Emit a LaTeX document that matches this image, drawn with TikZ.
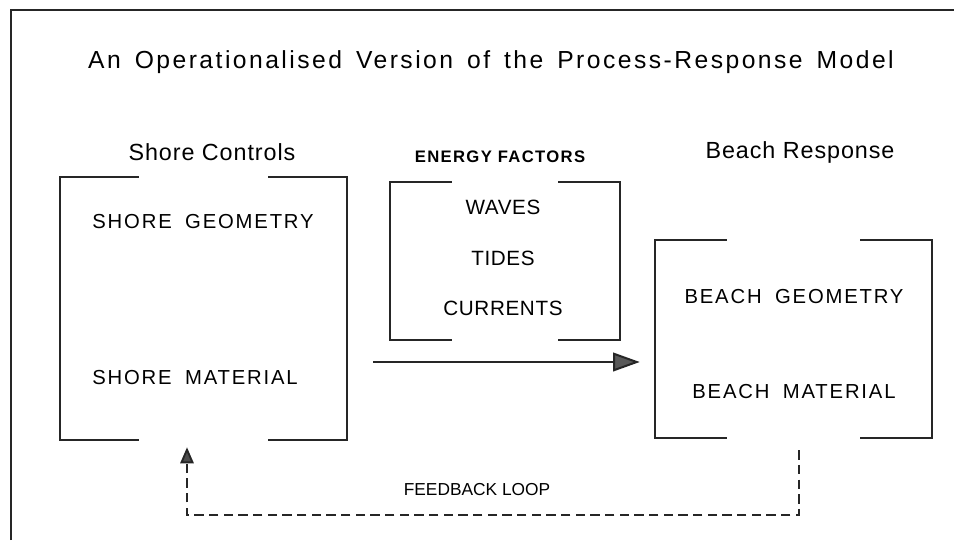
\documentclass[tikz,border=0pt]{standalone}
\usepackage{fontspec}
\setmainfont{Liberation Sans}
\newfontfamily\titlefont{Liberation Sans}[LetterSpace=10,WordSpace=1.5]
\newfontfamily\headfont{Liberation Sans}[LetterSpace=4]
\newfontfamily\energyfont{Liberation Sans}[LetterSpace=8]
\newfontfamily\itemfont{Liberation Sans}[LetterSpace=9,WordSpace=1.8]
\newfontfamily\factorfont{Liberation Sans}[LetterSpace=3]
\usetikzlibrary{arrows.meta,calc}

% draw the two open brackets of a framed group node
\newcommand{\bracketpair}[2]{%
  \draw[bracketline] ($(#1.north west)+(#2,0)$) -| (#1.south west) -- ++(#2,0);
  \draw[bracketline] ($(#1.north east)-(#2,0)$) -| (#1.south east) -- ++(-#2,0);
}

\begin{document}
\begin{tikzpicture}[x=0.75pt,y=-0.75pt,
  bracketline/.style={draw=black!85,line width=1.7pt},
  framebox/.style={rectangle,inner sep=0pt,draw=none},
  title/.style={font=\titlefont\fontsize{18.5}{20}\selectfont},
  heading/.style={font=\headfont\fontsize{17.5}{20}\selectfont},
  capsbold/.style={font=\energyfont\fontsize{12.5}{14}\selectfont\bfseries},
  item/.style={font=\itemfont\fontsize{15.2}{17}\selectfont},
  thin/.style={font=\factorfont\fontsize{15.5}{17}\selectfont},
  plain/.style={font=\fontsize{13}{16}\selectfont},
  flow/.style={draw=black!85,line width=1.5pt,-{Triangle[length=20pt,width=14pt,fill=black!65]}},
  feedback/.style={draw=black!85,line width=1.4pt,dash pattern=on 7pt off 4pt,
    -{Triangle[length=12pt,width=10pt,fill=black!70]}},
  outer/.style={draw=black!85,line width=1.4pt}]
\useasboundingbox (0,0) rectangle (954,540);

% page frame
\draw[outer] (11,540) -- (11,10) -- (954,10);

% title and column headings
\node[title] (ttl) at (491,62) {An Operationalised Version of the Process-Response Model};
\node[heading] (hshore) at (212,152) {Shore Controls};
\node[capsbold] (henergy) at (500,157) {ENERGY FACTORS};
\node[heading] (hbeach) at (800,152) {Beach Response};

% bracketed groups
\node[framebox,minimum width=215.25pt,minimum height=197.25pt] (shorebox) at (203.5,308.5) {};
\node[framebox,minimum width=172.5pt,minimum height=118.5pt] (energybox) at (505,261) {};
\node[framebox,minimum width=207.75pt,minimum height=148.5pt] (beachbox) at (793.5,339) {};
\bracketpair{shorebox}{79}
\bracketpair{energybox}{62}
\bracketpair{beachbox}{72}

% group contents
\node[item] (sgeo) at (203,222) {SHORE GEOMETRY};
\node[item] (smat) at (195,378) {SHORE MATERIAL};
\node[thin] (waves) at (503,207) {WAVES};
\node[thin] (tides) at (503,258) {TIDES};
\node[thin] (currents) at (503,308) {CURRENTS};
\node[item] (bgeo) at (794,297) {BEACH GEOMETRY};
\node[item] (bmat) at (794,392) {BEACH MATERIAL};

% energy flow into the beach
\coordinate (flowstart) at ($(shorebox.east |- 0,362)+(26,0)$);
\coordinate (flowend) at ($(beachbox.west |- 0,362)+(-15,0)$);
\draw[flow] (flowstart) -- (flowend);

% feedback loop back to the shore controls
\coordinate (fbstart) at ($(beachbox.south)+(5.5,12)$);
\coordinate (fbend) at ($(shorebox.south)+(-16.5,7)$);
\coordinate (fblow) at (0,515);
\node[plain] (fblabel) at (477,490) {FEEDBACK LOOP};
\draw[feedback] (fbstart) |- (fblow -| fbend) -- (fbend);
\end{tikzpicture}
\end{document}
